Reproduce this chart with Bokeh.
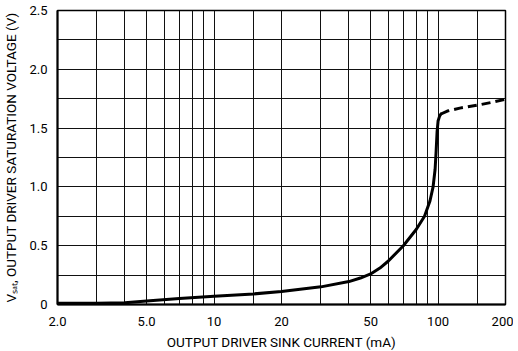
from bokeh.plotting import figure
from bokeh.models import FixedTicker, ColumnDataSource
from bokeh.embed import file_html
from bokeh.resources import INLINE

# Data
current_solid = [2, 3, 4, 5, 7, 10, 15, 20, 30, 40, 45, 50, 55, 60, 70, 80, 87, 92, 95, 97, 98, 99, 100, 101.5, 103]
vsat_solid = [0.01, 0.01, 0.015, 0.03, 0.05, 0.07, 0.09, 0.11, 0.15, 0.195, 0.225, 0.26, 0.31, 0.37, 0.5, 0.64, 0.75, 0.88, 1.0, 1.15, 1.3, 1.47, 1.56, 1.6, 1.62]
current_dash = [103, 110, 125, 150, 175, 200]
vsat_dash = [1.62, 1.645, 1.67, 1.695, 1.72, 1.745]

x_label_ticks = [2, 5, 10, 20, 50, 100, 200]
x_label_text = ["2.0", "5.0", "10", "20", "50", "100", "200"]
x_grid_ticks = [2, 3, 4, 5, 6, 7, 8, 9, 10, 15, 20, 30, 40, 50, 60, 70, 80, 90, 100, 150, 200]
y_label_ticks = [0, 0.5, 1.0, 1.5, 2.0, 2.5]
y_label_text = ["0", "0.5", "1.0", "1.5", "2.0", "2.5"]
y_grid_ticks = [0, 0.25, 0.5, 0.75, 1.0, 1.25, 1.5, 1.75, 2.0, 2.25, 2.5]

FONT = "Roboto"

p = figure(
    x_axis_type="log", x_range=(2, 200), y_range=(0, 2.5),
    frame_width=448, frame_height=294,
    min_border_left=57, min_border_right=8, min_border_top=10, min_border_bottom=40,
    output_backend="svg", toolbar_location=None,
)
p.background_fill_color = "white"
p.border_fill_color = "white"
p.outline_line_color = "black"
p.outline_line_width = 1.5

# axes
p.xaxis.ticker = FixedTicker(ticks=x_label_ticks)
p.xaxis.major_label_overrides = {t: s for t, s in zip(x_label_ticks, x_label_text)}
p.yaxis.ticker = FixedTicker(ticks=y_label_ticks)
p.yaxis.major_label_overrides = {t: s for t, s in zip(y_label_ticks, y_label_text)}
for ax in (p.xaxis, p.yaxis):
    ax.major_tick_line_color = None
    ax.minor_tick_line_color = None
    ax.axis_line_color = "black"
    ax.axis_line_width = 2
    ax.major_label_text_font = FONT
    ax.major_label_text_font_size = "13px"
    ax.major_label_text_color = "black"
    ax.axis_label_text_font = FONT
    ax.axis_label_text_font_size = "13.5px"
    ax.axis_label_text_font_style = "normal"
    ax.axis_label_text_color = "black"
p.xaxis.major_label_standoff = 6
p.yaxis.major_label_standoff = 4
p.xaxis.axis_label = "OUTPUT DRIVER SINK CURRENT (mA)"
p.yaxis.axis_label = "V\u209b\u2090\u209c, OUTPUT DRIVER SATURATION VOLTAGE (V)"
p.xaxis.axis_label_standoff = 5
p.yaxis.axis_label_standoff = 7

# grids
p.xgrid.ticker = FixedTicker(ticks=x_grid_ticks)
p.ygrid.ticker = FixedTicker(ticks=y_grid_ticks)
for g in (p.xgrid, p.ygrid):
    g.grid_line_color = "#111111"
    g.grid_line_width = 1
    g.grid_line_alpha = 1.0

src_solid = ColumnDataSource(dict(x=current_solid, y=vsat_solid))
src_dash = ColumnDataSource(dict(x=current_dash, y=vsat_dash))
p.line("x", "y", source=src_solid, line_color="black", line_width=3, line_join="round", line_cap="round")
p.line("x", "y", source=src_dash, line_color="black", line_width=3, line_dash="9 5")

open("out.html", "w").write(file_html(p, INLINE))
